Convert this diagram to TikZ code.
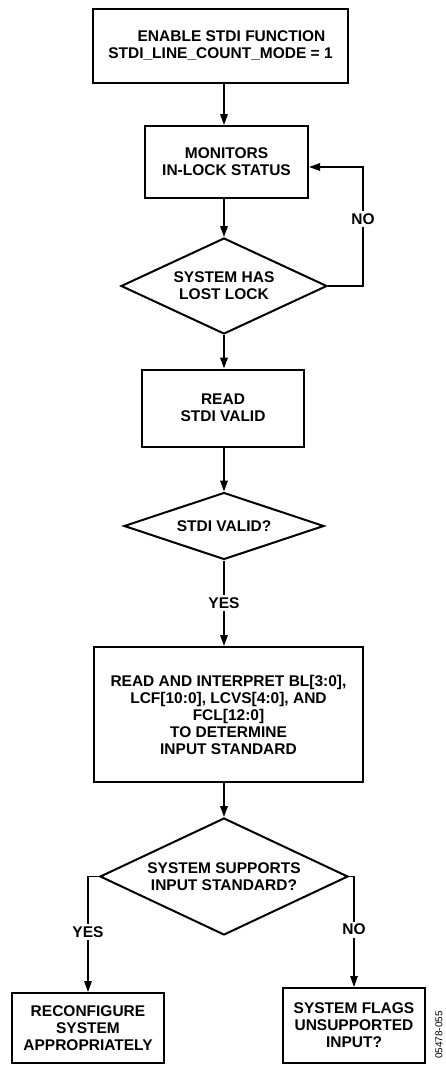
\documentclass[tikz,border=0pt]{standalone}
\usepackage{fontspec}
\setmainfont{Liberation Sans}
\usetikzlibrary{shapes.geometric,arrows.meta}
\begin{document}
\begin{tikzpicture}[x=1pt,y=-1pt,
  every node/.style={font=\bfseries\fontsize{15.5}{17}\selectfont, align=center, inner sep=0pt},
  procbox/.style={draw, line width=2pt, rectangle},
  decision/.style={draw, diamond, line width=2pt},
  flow/.style={line width=1.6pt, -{Triangle[length=11pt,width=7.5pt]}},
  lbl/.style={fill=white, inner sep=2.5pt}
]
\useasboundingbox (0,0) rectangle (445,1066);

\node[procbox, minimum width=255pt, minimum height=74pt] (b1) at (220.5,46)
  {\hspace*{22pt}ENABLE STDI FUNCTION\\STDI\_LINE\_COUNT\_MODE = 1};
\node[procbox, minimum width=163pt, minimum height=72pt] (b2) at (226.5,162)
  {MONITORS\\IN-LOCK STATUS};
\node[decision, minimum width=206pt, minimum height=96pt, aspect=2.15] (d1) at (224,286)
  {SYSTEM HAS\\LOST LOCK};
\node[procbox, minimum width=162pt, minimum height=77pt] (b3) at (223,408)
  {READ\\STDI VALID};
\node[decision, minimum width=200pt, minimum height=67pt, aspect=3] (d2) at (224,526)
  {STDI VALID?};
\node[procbox, minimum width=269pt, minimum height=135pt] (b4) at (228.5,714.5)
  {READ AND INTERPRET BL[3:0],\\LCF[10:0], LCVS[4:0], AND\\FCL[12:0]\\TO DETERMINE\\INPUT STANDARD};
\node[decision, minimum width=248pt, minimum height=117pt, aspect=2.12] (d3) at (224,876.5)
  {SYSTEM SUPPORTS\\INPUT STANDARD?};
\node[procbox, minimum width=152pt, minimum height=70pt] (b5) at (88,1028)
  {RECONFIGURE\\SYSTEM\\APPROPRIATELY};
\node[procbox, minimum width=142pt, minimum height=75pt] (b6) at (354,1025.5)
  {SYSTEM FLAGS\\UNSUPPORTED\\INPUT?};

\draw[flow] (b1.south -| d1.center) -- (b2.north -| d1.center);
\draw[flow] (b2.south -| d1.center) -- (d1.north);
\draw[flow] (d1.east) -- (d1.east -| 363,0) |- node[lbl, pos=0.28] {NO} ([yshift=-5pt]b2.east);
\draw[flow] (d1.south) -- (b3.north -| d1.center);
\draw[flow] (b3.south -| d2.center) -- (d2.north);
\draw[flow] (d2.south) -- node[lbl] {YES} (b4.north -| d2.center);
\draw[flow] (b4.south -| d3.center) -- (d3.north);
\draw[flow] (d3.west) -| node[lbl, pos=0.74] {YES} (b5.north);
\draw[flow] (d3.east) -| node[lbl, pos=0.74] {NO} (b6.north);

\node[font=\fontsize{10}{12}\selectfont, rotate=90] (fig) at (439,1035) {05478-055};
\end{tikzpicture}
\end{document}
